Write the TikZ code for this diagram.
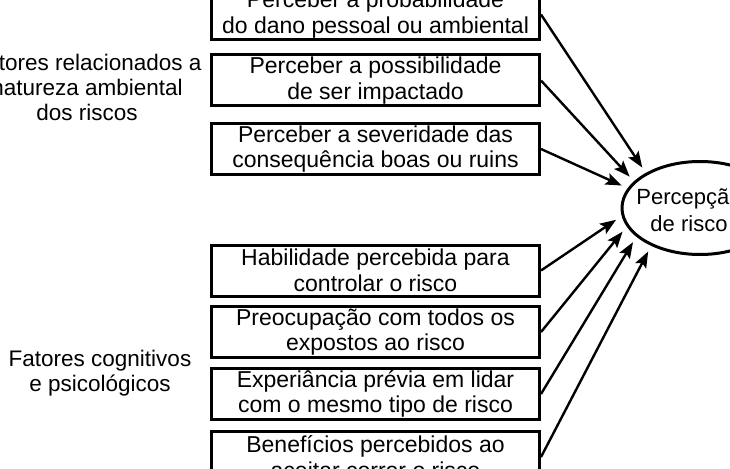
\documentclass[tikz,border=0pt]{standalone}
\usepackage{fontspec}
\setmainfont{Liberation Sans}
\usetikzlibrary{arrows.meta,shapes.geometric}
\begin{document}
\begin{tikzpicture}[x=1pt,y=-1pt,
  factor/.style={draw, line width=3pt, minimum width=328pt, minimum height=51pt,
    inner sep=0pt, align=center, font=\fontsize{23pt}{25.5pt}\selectfont},
  grouplabel/.style={align=center, inner sep=0pt, font=\fontsize{22.5pt}{25pt}\selectfont},
  link/.style={line width=2.4pt, -{Stealth[length=16pt,width=12pt,inset=3pt]}},
  target/.style={draw, ellipse, line width=3pt, minimum width=156pt, minimum height=93pt,
    inner sep=0pt, outer sep=8pt},
  targettext/.style={align=center, inner sep=0pt, font=\fontsize{22pt}{27pt}\selectfont}]
\useasboundingbox (0,0) rectangle (730,468);
\clip (0,0) rectangle (730,468);
\fill[white] (0,0) rectangle (730,468);

\node[grouplabel] (g1) at (87,87.5) {Fatores relacionados a\\natureza ambiental\\dos riscos};
\node[grouplabel] (g2) at (100,373) {Fatores cognitivos\\e psicológicos};

\node[factor] (b1) at (375.5,14.5) {Perceber a probabilidade\\do dano pessoal ou ambiental};
\node[factor] (b2) at (375.5,80.5) {Perceber a possibilidade\\de ser impactado};
\node[factor] (b3) at (375.5,149) {Perceber a severidade das\\consequência boas ou ruins};
\node[factor] (b4) at (375.5,270.5) {Habilidade percebida para\\controlar o risco};
\node[factor] (b5) at (375.5,332) {Preocupação com todos os\\expostos ao risco};
\node[factor] (b6) at (375.5,394) {Experiância prévia em lidar\\com o mesmo tipo de risco};
\node[factor] (b7) at (375.5,457) {Benefícios percebidos ao\\aceitar correr o risco};

\node[target] (perc) at (700,208) {};
\node[targettext] (perctext) at (689,210) {Percepção\\de risco};

\draw[link] (b1.east) -- (perc.145.9);
\draw[link] (b2.east) -- (perc.156.8);
\draw[link] (b3.east) -- (perc.164);
\draw[link] (b4.east) -- (perc.188.2);
\draw[link] (b5.east) -- (perc.197.5);
\draw[link] (b6.east) -- (perc.207.6);
\draw[link] (b7.east) -- (perc.220.7);
\end{tikzpicture}
\end{document}
